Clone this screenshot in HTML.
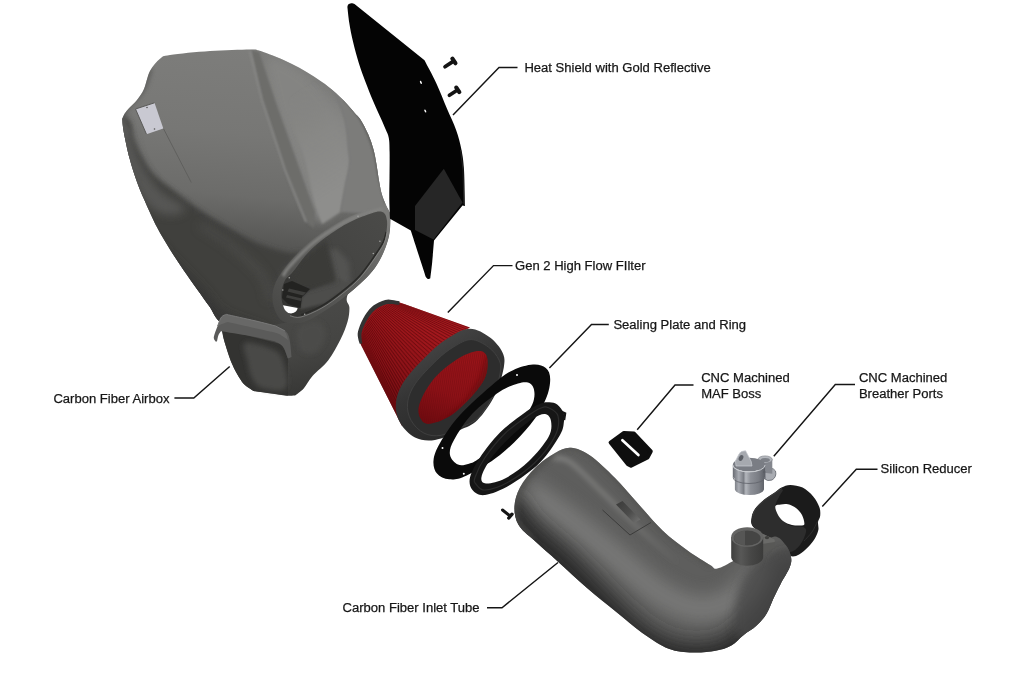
<!DOCTYPE html>
<html lang="en"><head><meta charset="utf-8"><title>Carbon Fiber Intake – Exploded View</title>
<style>
html,body{margin:0;padding:0;background:#fff;}
body{width:1024px;height:683px;overflow:hidden;font-family:"Liberation Sans",sans-serif;}
svg{display:block}
svg text{font-family:"Liberation Sans",sans-serif;font-size:13.05px;fill:#161616;stroke:#161616;stroke-width:.25px;}
</style></head><body>
<svg width="1024" height="683" viewBox="0 0 1024 683">
<defs>
<filter id="b1" x="-20%" y="-20%" width="140%" height="140%"><feGaussianBlur stdDeviation="1"/></filter>
<filter id="b2" x="-20%" y="-20%" width="140%" height="140%"><feGaussianBlur stdDeviation="2.5"/></filter>
<filter id="b4" x="-30%" y="-30%" width="160%" height="160%"><feGaussianBlur stdDeviation="5"/></filter>
<filter id="b8" x="-40%" y="-40%" width="180%" height="180%"><feGaussianBlur stdDeviation="9"/></filter>
<clipPath id="cBody"><path d="M122.3 119.0C122.9 117.8 123.5 114.9 126.0 111.7C128.4 108.5 134.0 103.8 137.0 100.0C140.0 96.2 141.8 93.8 144.0 89.0C146.2 84.2 147.3 76.0 150.0 71.0C152.7 66.0 156.7 61.4 160.0 58.8C163.3 56.1 161.7 56.3 170.0 55.0C178.3 53.7 196.7 51.9 210.0 51.0C223.3 50.1 241.8 49.6 250.0 49.5C258.1 49.4 255.6 49.8 258.9 50.6C262.2 51.5 265.7 53.0 270.0 54.6C274.3 56.2 279.7 58.3 284.6 60.5C289.5 62.7 294.4 65.1 299.3 67.8C304.2 70.5 309.0 73.4 313.9 76.6C318.8 79.8 323.7 83.0 328.6 86.9C333.5 90.8 338.8 95.6 343.2 100.0C347.6 104.4 351.9 109.8 354.9 113.2C357.9 116.6 358.8 116.9 361.0 120.5C363.2 124.1 366.2 129.8 368.3 134.6C370.4 139.4 372.0 144.4 373.4 149.3C374.8 154.2 375.5 159.0 376.4 163.9C377.3 168.8 377.8 173.7 378.6 178.6C379.5 183.5 380.3 188.8 381.5 193.2C382.7 197.6 384.4 201.5 385.9 204.9C387.4 208.3 389.5 211.3 390.3 213.7C391.1 216.0 390.6 218.1 390.6 219.0C390.2 222.5 390.6 231.8 388.0 240.0C385.4 248.2 381.1 259.1 374.8 267.9C368.5 276.6 358.9 285.0 350.0 292.5C341.1 300.0 329.7 307.9 321.5 313.0C313.3 318.1 307.1 321.3 301.0 323.0C294.9 324.7 290.2 322.5 285.0 323.0C279.8 323.5 272.5 325.5 270.0 326.0C263.7 324.7 240.4 318.8 232.0 318.0C223.6 317.2 223.6 323.4 219.8 321.5C216.0 319.6 213.0 311.6 209.3 306.3C205.6 301.0 201.9 295.9 197.6 289.9C193.3 283.8 188.1 276.7 183.5 270.0C178.9 263.3 174.4 256.6 170.0 249.5C165.6 242.3 161.1 235.3 156.9 227.1C152.7 218.9 147.9 208.0 144.6 200.5C141.3 193.0 139.5 189.0 137.0 182.0C134.5 175.0 131.8 166.9 129.6 158.6C127.4 150.3 125.0 138.8 123.8 132.2C122.6 125.6 122.5 121.2 122.3 119.0Z"/></clipPath>
<linearGradient id="gBody" gradientUnits="userSpaceOnUse" x1="250" y1="50" x2="225" y2="330">
<stop offset="0" stop-color="#7d7d7b"/><stop offset=".3" stop-color="#777775"/><stop offset=".52" stop-color="#6c6c6a"/><stop offset=".66" stop-color="#5a5a58"/><stop offset=".8" stop-color="#484846"/><stop offset="1" stop-color="#3f3f3d"/></linearGradient>
<linearGradient id="gDuct" gradientUnits="userSpaceOnUse" x1="300" y1="300" x2="325" y2="395">
<stop offset="0" stop-color="#4a4a48"/><stop offset=".55" stop-color="#444442"/><stop offset="1" stop-color="#353533"/></linearGradient>
<linearGradient id="gVal" gradientUnits="userSpaceOnUse" x1="292" y1="95" x2="348" y2="185"><stop offset="0" stop-color="#848482" stop-opacity="0"/><stop offset=".45" stop-color="#8a8a88" stop-opacity=".7"/><stop offset="1" stop-color="#8e8e8c"/></linearGradient>
<linearGradient id="gFl" gradientUnits="userSpaceOnUse" x1="370" y1="205" x2="280" y2="320">
<stop offset="0" stop-color="#7c7c7a"/><stop offset=".3" stop-color="#686866"/><stop offset=".6" stop-color="#585856"/><stop offset="1" stop-color="#484846"/></linearGradient>
<linearGradient id="gIn" gradientUnits="userSpaceOnUse" x1="380" y1="215" x2="290" y2="305">
<stop offset="0" stop-color="#4a4a48"/><stop offset=".55" stop-color="#444442"/><stop offset="1" stop-color="#343432"/></linearGradient>
<clipPath id="cE3"><path d="M292.8 272.0C297.2 266.9 303.7 256.6 311.2 249.4C318.7 242.2 329.3 234.4 337.9 228.9C346.4 223.4 355.3 219.5 362.5 216.6C369.7 213.7 376.8 210.8 380.9 211.5C385.0 212.2 386.4 215.8 387.0 220.7C387.6 225.6 386.2 235.6 384.5 241.2C382.8 246.8 380.8 248.5 376.8 254.5C372.8 260.5 366.2 270.5 360.4 277.0C354.6 283.5 348.5 288.4 342.0 293.5C335.5 298.6 328.3 304.0 321.5 307.8C314.7 311.6 306.1 315.3 301.0 316.5C295.9 317.7 293.7 316.9 290.7 315.0C287.7 313.1 284.5 308.6 283.0 304.8C281.5 301.1 281.2 296.6 281.5 292.5C281.8 288.4 283.1 283.6 285.0 280.2C286.9 276.8 288.4 277.1 292.8 272.0Z"/></clipPath>
<linearGradient id="gRed" gradientUnits="userSpaceOnUse" x1="440" y1="312" x2="375" y2="385">
<stop offset="0" stop-color="#a4191e"/><stop offset=".35" stop-color="#98151a"/><stop offset=".75" stop-color="#821015"/><stop offset="1" stop-color="#680b0f"/></linearGradient>
<linearGradient id="gRedIn" gradientUnits="userSpaceOnUse" x1="470" y1="352" x2="440" y2="425">
<stop offset="0" stop-color="#9a151a"/><stop offset=".6" stop-color="#8e1218"/><stop offset="1" stop-color="#720c11"/></linearGradient>
<linearGradient id="gRim" gradientUnits="userSpaceOnUse" x1="430" y1="340" x2="480" y2="430">
<stop offset="0" stop-color="#454545"/><stop offset=".4" stop-color="#343434"/><stop offset="1" stop-color="#272727"/></linearGradient>
<clipPath id="cCone"><path d="M397.0 301.5L470.0 327.5L440.0 345.0L402.0 426.0L360.3 343.5L359.0 331.0L364.0 318.0L374.0 306.5L386.0 301.5Z"/></clipPath>
<clipPath id="cRimI"><path d="M487.5 360.0C487.9 365.2 487.9 373.8 482.5 382.5C477.1 391.2 463.8 405.6 455.0 412.5C446.2 419.4 435.8 422.9 430.0 423.8C424.2 424.6 421.7 421.0 420.0 417.5C418.3 414.0 417.5 409.2 420.0 402.5C422.5 395.8 428.3 385.0 435.0 377.5C441.7 370.0 452.5 361.9 460.0 357.5C467.5 353.1 475.4 350.6 480.0 351.0C484.6 351.4 487.1 354.8 487.5 360.0Z"/></clipPath>
<clipPath id="cTube"><path d="M571.0 447.8C576.8 448.2 582.7 450.5 590.0 455.5C597.3 460.5 607.1 470.1 615.0 478.0C622.9 485.9 629.6 494.2 637.5 503.0C645.4 511.8 654.2 522.6 662.5 530.5C670.8 538.4 679.6 544.8 687.5 550.5C695.4 556.2 705.0 562.0 710.0 565.0C715.0 568.0 713.1 569.3 717.3 568.5C721.5 567.7 727.9 563.9 735.0 560.0C742.1 556.1 753.3 548.9 760.0 545.0C766.7 541.1 770.7 536.5 775.0 536.5C779.3 536.5 783.2 541.8 785.9 545.3C788.6 548.8 790.5 553.8 791.1 557.6C791.7 561.4 791.1 563.7 789.4 568.1C787.6 572.5 783.2 578.9 780.6 583.9C778.0 588.9 776.0 593.0 773.6 598.0C771.2 603.0 769.4 609.1 766.5 613.8C763.6 618.5 759.8 622.6 756.0 626.1C752.2 629.6 747.8 631.7 743.7 634.9C739.6 638.1 736.1 642.8 731.4 645.4C726.7 648.0 722.0 649.5 715.6 650.7C709.2 651.9 700.5 652.8 692.7 652.5C684.9 652.2 677.1 652.0 668.7 648.7C660.3 645.4 651.1 639.0 642.3 632.9C633.5 626.8 625.2 619.3 616.0 611.8C606.8 604.3 596.7 596.4 587.0 588.0C577.3 579.6 566.8 569.6 558.0 561.7C549.2 553.8 540.9 546.8 534.3 540.6C527.7 534.5 521.8 530.5 518.5 524.8C515.2 519.1 514.2 512.6 514.5 506.4C514.8 500.2 516.6 493.9 520.0 487.5C523.4 481.1 529.2 473.8 535.0 468.0C540.8 462.2 549.0 456.4 555.0 453.0C561.0 449.6 565.2 447.4 571.0 447.8Z"/></clipPath>
<linearGradient id="gHl" gradientUnits="userSpaceOnUse" x1="552" y1="458" x2="680" y2="565"><stop offset="0" stop-color="#8a8a88" stop-opacity=".8"/><stop offset=".5" stop-color="#8a8a88" stop-opacity=".55"/><stop offset="1" stop-color="#8a8a88" stop-opacity="0"/></linearGradient>
<linearGradient id="gPad" gradientUnits="userSpaceOnUse" x1="618" y1="503" x2="638" y2="522"><stop offset="0" stop-color="#3d3d3c"/><stop offset=".55" stop-color="#4c4c4b"/><stop offset="1" stop-color="#6e6e6d"/></linearGradient>
<linearGradient id="gBoss" gradientUnits="userSpaceOnUse" x1="731" y1="0" x2="764" y2="0">
<stop offset="0" stop-color="#3e3e3d"/><stop offset=".3" stop-color="#585857"/><stop offset=".6" stop-color="#474746"/><stop offset="1" stop-color="#3a3a39"/></linearGradient>
<linearGradient id="gSil" gradientUnits="userSpaceOnUse" x1="733" y1="0" x2="765" y2="0">
<stop offset="0" stop-color="#6a6d74"/><stop offset=".18" stop-color="#a9acb3"/><stop offset=".33" stop-color="#7b7e85"/><stop offset=".4" stop-color="#b4b7bd"/><stop offset=".55" stop-color="#8d9097"/><stop offset=".8" stop-color="#7a7d84"/><stop offset="1" stop-color="#5c5f66"/></linearGradient>
</defs>
<g id="airbox">
<path d="M222.0 326.0C222.4 328.5 222.6 334.7 224.3 341.0C226.0 347.3 229.3 357.4 232.0 363.8C234.7 370.2 238.2 376.0 240.5 379.6C242.8 383.2 243.3 383.6 245.5 385.5C247.7 387.4 252.2 390.1 253.5 391.0C258.6 391.7 277.5 394.6 284.4 395.4C291.3 396.2 293.1 395.6 294.9 395.6C296.4 394.4 300.8 391.6 303.7 388.4C306.6 385.1 308.4 380.8 312.5 376.1C316.6 371.4 323.6 366.5 328.3 360.3C333.0 354.1 337.4 345.6 340.6 339.2C343.8 332.8 346.1 326.9 347.6 321.6C349.1 316.3 349.5 311.4 349.4 307.6C349.2 303.8 346.3 302.9 346.7 298.8C347.1 294.7 351.1 285.6 352.0 283.0L330.0 270.0L260.0 300.0L222.0 326.0Z" fill="url(#gDuct)"/>
<path d="M298.0 328.0C301.0 323.3 313.3 320.8 318.0 322.0C322.7 323.2 326.3 330.0 326.0 335.0C325.7 340.0 320.3 349.5 316.0 352.0C311.7 354.5 303.0 354.0 300.0 350.0C297.0 346.0 295.0 332.7 298.0 328.0Z" fill="#4e4e4c" filter="url(#b2)" opacity=".8"/>
<path d="M221.5 329.0L275.0 342.5C276.3 343.1 280.5 343.5 282.6 346.2C284.8 348.9 287.0 356.4 287.9 358.5L288.0 395.4L253.5 391.0C252.2 390.1 247.7 387.4 245.5 385.5C243.3 383.6 242.8 383.2 240.5 379.6C238.2 376.0 234.7 370.2 232.0 363.8C229.3 357.4 226.1 346.8 224.3 341.0C222.6 335.2 222.0 331.0 221.5 329.0Z" fill="#333331"/>
<path d="M245.0 343.0C249.2 341.2 265.7 346.2 272.0 349.0C278.3 351.8 280.7 353.5 283.0 360.0C285.3 366.5 289.5 383.3 286.0 388.0C282.5 392.7 267.7 389.7 262.0 388.0C256.3 386.3 254.5 382.7 252.0 378.0C249.5 373.3 248.2 365.8 247.0 360.0C245.8 354.2 240.8 344.8 245.0 343.0Z" fill="#484847" filter="url(#b2)"/>
<path d="M122.3 119.0C122.9 117.8 123.5 114.9 126.0 111.7C128.4 108.5 134.0 103.8 137.0 100.0C140.0 96.2 141.8 93.8 144.0 89.0C146.2 84.2 147.3 76.0 150.0 71.0C152.7 66.0 156.7 61.4 160.0 58.8C163.3 56.1 161.7 56.3 170.0 55.0C178.3 53.7 196.7 51.9 210.0 51.0C223.3 50.1 241.8 49.6 250.0 49.5C258.1 49.4 255.6 49.8 258.9 50.6C262.2 51.5 265.7 53.0 270.0 54.6C274.3 56.2 279.7 58.3 284.6 60.5C289.5 62.7 294.4 65.1 299.3 67.8C304.2 70.5 309.0 73.4 313.9 76.6C318.8 79.8 323.7 83.0 328.6 86.9C333.5 90.8 338.8 95.6 343.2 100.0C347.6 104.4 351.9 109.8 354.9 113.2C357.9 116.6 358.8 116.9 361.0 120.5C363.2 124.1 366.2 129.8 368.3 134.6C370.4 139.4 372.0 144.4 373.4 149.3C374.8 154.2 375.5 159.0 376.4 163.9C377.3 168.8 377.8 173.7 378.6 178.6C379.5 183.5 380.3 188.8 381.5 193.2C382.7 197.6 384.4 201.5 385.9 204.9C387.4 208.3 389.5 211.3 390.3 213.7C391.1 216.0 390.6 218.1 390.6 219.0C390.2 222.5 390.6 231.8 388.0 240.0C385.4 248.2 381.1 259.1 374.8 267.9C368.5 276.6 358.9 285.0 350.0 292.5C341.1 300.0 329.7 307.9 321.5 313.0C313.3 318.1 307.1 321.3 301.0 323.0C294.9 324.7 290.2 322.5 285.0 323.0C279.8 323.5 272.5 325.5 270.0 326.0C263.7 324.7 240.4 318.8 232.0 318.0C223.6 317.2 223.6 323.4 219.8 321.5C216.0 319.6 213.0 311.6 209.3 306.3C205.6 301.0 201.9 295.9 197.6 289.9C193.3 283.8 188.1 276.7 183.5 270.0C178.9 263.3 174.4 256.6 170.0 249.5C165.6 242.3 161.1 235.3 156.9 227.1C152.7 218.9 147.9 208.0 144.6 200.5C141.3 193.0 139.5 189.0 137.0 182.0C134.5 175.0 131.8 166.9 129.6 158.6C127.4 150.3 125.0 138.8 123.8 132.2C122.6 125.6 122.5 121.2 122.3 119.0Z" fill="url(#gBody)"/>
<g clip-path="url(#cBody)">
<path d="M108.0 112.0C112.0 89.7 120.2 114.0 124.0 116.0C127.8 118.0 129.5 120.5 131.0 124.0C132.5 127.5 131.3 131.8 133.0 137.0C134.7 142.2 137.6 148.8 141.0 155.0C144.4 161.2 148.2 168.2 153.5 174.0C158.8 179.8 165.1 183.9 173.0 190.0C180.9 196.1 190.6 203.6 201.0 210.5C211.4 217.4 225.5 225.8 235.5 231.5C245.5 237.2 251.9 240.9 261.0 244.5C270.1 248.1 283.5 251.8 290.0 253.0C296.5 254.2 301.7 248.3 300.0 252.0C298.3 255.7 284.7 267.0 280.0 275.0C275.3 283.0 272.8 290.0 272.0 300.0C271.2 310.0 287.0 329.2 275.0 335.0C263.0 340.8 229.2 349.2 200.0 335.0C170.8 320.8 115.3 287.2 100.0 250.0C84.7 212.8 104.0 134.3 108.0 112.0Z" fill="#3f3f3e" filter="url(#b2)"/>
<path d="M112.0 118.0C112.5 111.3 123.3 118.0 128.0 125.0C132.7 132.0 134.7 149.2 140.0 160.0C145.3 170.8 152.5 182.0 160.0 190.0C167.5 198.0 183.3 203.8 185.0 208.0C186.7 212.2 176.2 215.5 170.0 215.0C163.8 214.5 155.5 213.3 148.0 205.0C140.5 196.7 131.0 179.5 125.0 165.0C119.0 150.5 111.5 124.7 112.0 118.0Z" fill="#5a5a58" filter="url(#b4)" opacity=".9"/>
<path d="M150.0 235.0C155.8 236.7 165.8 250.8 175.0 260.0C184.2 269.2 196.7 281.3 205.0 290.0C213.3 298.7 214.5 305.3 225.0 312.0C235.5 318.7 265.5 325.3 268.0 330.0C270.5 334.7 253.0 342.5 240.0 340.0C227.0 337.5 206.7 330.0 190.0 315.0C173.3 300.0 146.7 263.3 140.0 250.0C133.3 236.7 144.2 233.3 150.0 235.0Z" fill="#363635" filter="url(#b4)" opacity=".85"/>
<path d="M200.0 225.0C205.0 228.3 219.7 236.7 230.0 245.0C240.3 253.3 255.3 265.8 262.0 275.0C268.7 284.2 268.7 295.8 270.0 300.0" fill="none" stroke="#4e4e4c" stroke-width="7" filter="url(#b4)" opacity=".8"/>
<path d="M268.0 58.0C272.7 53.8 289.7 63.0 300.0 70.0C310.3 77.0 322.5 88.3 330.0 100.0C337.5 111.7 342.0 127.5 345.0 140.0C348.0 152.5 348.8 164.2 348.0 175.0C347.2 185.8 345.0 197.2 340.0 205.0C335.0 212.8 324.7 224.5 318.0 222.0C311.3 219.5 305.5 203.7 300.0 190.0C294.5 176.3 289.7 155.8 285.0 140.0C280.3 124.2 274.8 108.7 272.0 95.0C269.2 81.3 263.3 62.2 268.0 58.0Z" fill="#868684" filter="url(#b4)" opacity=".85"/>
<path d="M300.0 70.0C303.7 71.7 316.0 75.3 322.0 80.0C328.0 84.7 332.2 91.0 336.0 98.0C339.8 105.0 342.9 113.3 345.0 122.0C347.1 130.7 347.6 143.0 348.3 150.0C349.0 157.0 349.9 158.1 349.3 163.9C348.8 169.7 346.5 177.0 345.0 185.0C343.5 193.0 341.2 207.5 340.5 212.0L322.0 224.0C320.7 220.0 316.8 210.7 314.0 200.0C311.2 189.3 309.0 175.0 305.0 160.0C301.0 145.0 290.8 125.0 290.0 110.0C289.2 95.0 298.3 76.7 300.0 70.0Z" fill="url(#gVal)" filter="url(#b1)"/>
<path d="M322.0 80.0C324.3 83.0 332.2 91.0 336.0 98.0C339.8 105.0 342.9 113.3 345.0 122.0C347.1 130.7 347.6 143.0 348.3 150.0C349.0 157.0 349.9 158.1 349.3 163.9C348.8 169.7 346.5 177.0 345.0 185.0C343.5 193.0 341.2 207.5 340.5 212.0L395.0 215.0C393.3 204.2 390.0 167.2 385.0 150.0C380.0 132.8 374.2 124.0 365.0 112.0C355.8 100.0 335.8 83.7 330.0 78.0Z" fill="#7c7c7a" filter="url(#b1)"/>
<path d="M345.0 99.0C347.8 102.7 357.2 112.5 362.0 121.0C366.8 129.5 371.1 140.5 374.0 150.0C376.9 159.5 377.5 169.2 379.5 178.0C381.5 186.8 384.9 198.8 386.0 203.0" fill="none" stroke="#5e5e5c" stroke-width="3" filter="url(#b1)"/>
<path d="M251.0 50.0L259.0 52.0L275.0 100.0L300.0 170.0L315.0 212.0L314.0 228.0L306.0 222.0L285.0 170.0L262.0 100.0Z" fill="#6d6d6b" filter="url(#b1)"/>
<path d="M250 51 L262 100 L285 170 L306 222" fill="none" stroke="#8c8c8a" stroke-width="1.6" filter="url(#b1)"/>
<path d="M150.0 68.0C148.7 71.7 146.0 83.3 142.0 90.0C138.0 96.7 129.3 103.0 126.0 108.0C122.7 113.0 121.8 115.5 122.0 120.0C122.2 124.5 126.2 132.5 127.0 135.0" fill="none" stroke="#5a5a58" stroke-width="5" filter="url(#b2)"/>
</g>
<path d="M215.5 341.5C215.2 340.8 213.5 339.6 213.8 337.0C214.2 334.4 216.3 329.3 217.6 326.0C218.9 322.7 220.0 318.9 221.5 317.0C223.0 315.1 225.6 314.8 226.4 314.4C231.2 315.5 246.8 318.9 255.0 320.8C263.2 322.7 272.2 325.1 275.6 326.0C277.7 327.3 285.2 328.8 287.9 334.0C290.6 339.2 291.0 353.2 291.6 357.0L287.9 358.5C287.0 356.4 285.0 349.1 282.6 346.2C280.2 343.3 275.3 341.9 273.8 341.0C269.8 340.2 258.8 337.6 250.0 336.0C241.2 334.4 225.8 332.1 221.0 331.3C220.6 331.9 219.2 333.3 218.5 335.0C217.8 336.7 217.2 340.4 217.0 341.5Z" fill="#5b5b5a"/>
<path d="M217.6 326.0C218.2 324.5 220.0 318.9 221.5 317.0C223.0 315.1 225.6 314.8 226.4 314.4C231.2 315.5 246.8 318.9 255.0 320.8C263.2 322.7 272.2 325.1 275.6 326.0C277.2 327.0 282.9 329.7 285.0 332.0C287.1 334.3 287.5 338.7 288.0 340.0C286.5 339.0 282.0 335.4 279.0 334.0C276.0 332.6 271.5 331.9 270.0 331.5C266.7 330.8 257.0 328.6 250.0 327.0C243.0 325.4 231.7 322.8 228.0 322.0C227.0 322.3 223.7 323.3 222.0 324.0C220.3 324.7 218.3 325.7 217.6 326.0Z" fill="#686867"/>
<path d="M217.6 326.0C218.2 324.5 220.0 318.9 221.5 317.0C223.0 315.1 225.6 314.8 226.4 314.4C231.2 315.5 246.8 318.9 255.0 320.8C263.2 322.7 272.2 325.1 275.6 326.0L285.0 331.0" fill="none" stroke="#7b7b7a" stroke-width=".9"/>
<path d="M135.5 109.0L154.5 102.8L163.3 128.5L146.5 134.3Z" fill="#c9c9d2"/>
<path d="M146.5 134.3 L135.5 109 L154.5 102.8" stroke="#5a5a58" stroke-width="1" fill="none"/>
<circle cx="147" cy="107.5" r=".8" fill="#555"/><circle cx="154.5" cy="129" r=".8" fill="#555"/>
<path d="M163.5 128.7 L191.3 182.5" stroke="#5d5d5b" stroke-width=".9"/>
<path d="M385.0 206.4C388.9 208.1 389.7 214.6 390.0 220.7C390.3 226.8 389.5 235.1 387.0 243.0C384.5 250.9 381.0 259.6 374.8 267.9C368.6 276.1 358.9 285.0 350.0 292.5C341.1 300.0 329.7 307.9 321.5 313.0C313.3 318.1 307.5 321.7 301.0 323.0C294.5 324.3 287.1 324.0 282.5 321.0C277.9 318.0 274.7 310.6 273.3 304.8C271.9 299.0 272.1 292.5 274.3 286.0C276.5 279.5 280.5 273.3 286.6 265.8C292.7 258.3 301.8 248.5 311.0 241.0C320.2 233.5 332.7 225.8 342.0 220.7C351.3 215.6 359.4 212.9 366.6 210.5C373.8 208.1 381.1 204.7 385.0 206.4Z" fill="url(#gFl)"/>
<path d="M283.0 276.0C284.1 274.4 284.6 271.9 289.5 266.5C294.4 261.1 303.7 250.7 312.5 243.5C321.3 236.3 333.5 228.6 342.5 223.5C351.5 218.4 359.9 215.5 366.6 213.0C373.4 210.5 380.3 209.3 383.0 208.6" fill="none" stroke="#848482" stroke-width="3.2" filter="url(#b1)" opacity=".9"/>
<path d="M292.8 272.0C297.2 266.9 303.7 256.6 311.2 249.4C318.7 242.2 329.3 234.4 337.9 228.9C346.4 223.4 355.3 219.5 362.5 216.6C369.7 213.7 376.8 210.8 380.9 211.5C385.0 212.2 386.4 215.8 387.0 220.7C387.6 225.6 386.2 235.6 384.5 241.2C382.8 246.8 380.8 248.5 376.8 254.5C372.8 260.5 366.2 270.5 360.4 277.0C354.6 283.5 348.5 288.4 342.0 293.5C335.5 298.6 328.3 304.0 321.5 307.8C314.7 311.6 306.1 315.3 301.0 316.5C295.9 317.7 293.7 316.9 290.7 315.0C287.7 313.1 284.5 308.6 283.0 304.8C281.5 301.1 281.2 296.6 281.5 292.5C281.8 288.4 283.1 283.6 285.0 280.2C286.9 276.8 288.4 277.1 292.8 272.0Z" fill="url(#gIn)"/>
<g clip-path="url(#cE3)">
<path d="M328.0 250.0L337.0 249.0L349.0 262.0L351.0 284.0L338.0 293.0L333.0 270.0Z" fill="#535351" filter="url(#b2)"/>
<path d="M309.5 290.0L338.5 278.2L351.0 284.0L325.3 303.0L300.3 309.5L301.6 298.0Z" fill="#4d4d4b" filter="url(#b1)"/>
<path d="M300.0 262.0L326.0 240.0L333.0 268.0L336.0 282.0L308.0 290.0L290.0 285.0Z" fill="#3a3a38" filter="url(#b2)"/>
<path d="M284.0 284.0L292.0 281.0L310.0 289.0L302.0 297.0L300.5 308.0L288.0 304.0L282.0 298.0Z" fill="#232321"/>
<path d="M289.0 288.5L306.0 292.5L303.0 295.5L287.5 291.5Z" fill="#3e3e3c"/>
<path d="M287.0 295.0L302.0 298.5L301.0 301.0L286.0 297.5Z" fill="#3e3e3c"/>
<path d="M386.2 232.0C385.7 233.7 385.0 238.2 383.2 242.0C381.4 245.8 379.4 248.8 375.5 254.5C371.6 260.2 365.2 269.7 359.5 276.0C353.8 282.3 347.4 287.2 341.0 292.3C334.6 297.4 327.5 302.6 320.8 306.4C314.1 310.2 304.3 313.6 301.0 315.0" fill="none" stroke="#2a2a28" stroke-width="1.6"/>
</g>
<path d="M387.3 232.0C386.9 233.7 386.4 238.2 384.7 242.0C383.0 245.8 381.0 249.1 377.0 255.0C373.0 260.9 366.4 270.8 360.6 277.3C354.8 283.8 348.7 288.7 342.2 293.8C335.7 298.9 328.7 304.1 321.8 308.0C314.9 311.9 306.3 315.7 301.0 317.0C295.7 318.3 291.8 316.0 290.0 315.8" fill="none" stroke="#8a8a88" stroke-width=".8" opacity=".9"/>
<path d="M283 305.2 L297.6 308 Q297.5 312 291 313.6 Q285 313 283 305.2Z" fill="#fff"/>
<circle cx="358.0" cy="216.2" r=".8" fill="#a5a5a3"/>
<circle cx="379.9" cy="241.2" r=".8" fill="#a5a5a3"/>
<circle cx="373.3" cy="253.5" r=".8" fill="#a5a5a3"/>
<circle cx="289.3" cy="277.7" r=".8" fill="#a5a5a3"/>
<circle cx="282.8" cy="290.0" r=".8" fill="#a5a5a3"/>
<circle cx="304.7" cy="314.3" r=".8" fill="#a5a5a3"/>
</g>
<g id="heatshield">
<path d="M347.4 7.0C347.5 6.6 347.7 5.2 348.3 4.6C348.9 4.0 350.2 3.4 351.2 3.3C352.2 3.2 353.9 3.9 354.5 4.0L424.5 60.3C426.5 64.2 432.7 75.5 436.4 83.5C440.1 91.5 443.6 100.8 446.9 108.5C450.2 116.2 453.7 123.1 456.1 130.0C458.5 136.9 460.2 143.3 461.5 150.0C462.8 156.7 463.4 160.7 464.0 170.0C464.6 179.3 464.8 200.0 465.0 206.0L462.5 205.5L434.0 240.5C433.7 244.1 432.8 255.7 432.2 262.0C431.6 268.3 430.6 275.5 430.3 278.2C429.9 278.3 428.8 279.2 428.0 279.0C427.2 278.8 426.2 277.3 425.8 277.0C424.7 273.5 421.5 263.7 419.0 256.0C416.5 248.3 412.2 234.8 410.8 230.6L390.0 218.8C389.9 215.6 389.4 206.8 389.3 200.0C389.2 193.2 389.4 186.0 389.5 178.0C389.6 170.0 389.7 158.7 389.6 152.0C389.5 145.3 389.5 141.8 388.8 138.0C388.1 134.2 387.1 132.8 385.7 129.5C384.3 126.2 382.8 122.8 380.7 118.1C378.6 113.3 375.6 107.0 373.1 101.0C370.6 95.0 367.9 88.2 365.5 81.9C363.1 75.6 360.9 69.6 358.8 62.9C356.7 56.2 354.7 48.6 353.1 41.9C351.5 35.2 350.2 28.7 349.3 22.9C348.4 17.1 347.7 9.7 347.4 7.0Z" fill="#040404"/>
<path d="M443.8 168.8L462.5 202.5L433.5 239.5L415.0 230.0L415.0 206.0Z" fill="#262626"/>
<path d="M460.6 150 L463 170 L463.8 204" stroke="#222" stroke-width="1" fill="none"/>
<ellipse cx="420.9" cy="82.4" rx=".8" ry="1.7" fill="#fff" transform="rotate(-25 420.9 82.4)"/><ellipse cx="425.3" cy="111" rx=".8" ry="1.7" fill="#fff" transform="rotate(-25 425.3 111)"/>
<path d="M445.0 66.8 L452.4 61.9" stroke="#141414" stroke-width="3.7" stroke-linecap="round"/>
<path d="M452.4 58.7 L455.4 63.2" stroke="#141414" stroke-width="4.2" stroke-linecap="round"/>
<path d="M449.4 95.3 L456.3 90.8" stroke="#141414" stroke-width="3.7" stroke-linecap="round"/>
<path d="M456.3 87.6 L459.3 92.1" stroke="#141414" stroke-width="4.2" stroke-linecap="round"/>
</g>
<g id="filter">
<path d="M397.0 301.5L470.0 327.5L440.0 345.0L402.0 426.0L360.3 343.5L359.0 331.0L364.0 318.0L374.0 306.5L386.0 301.5Z" fill="url(#gRed)"/>
<g clip-path="url(#cCone)"><path d="M404.0 303.5 L476.0 328.0M402.4 303.5 L472.8 329.1M400.7 303.6 L469.7 330.2M399.1 303.6 L466.5 331.3M397.4 303.6 L463.4 332.4M395.8 303.7 L460.2 333.5M394.1 303.7 L457.1 334.6M392.5 303.7 L453.9 335.6M390.8 303.8 L450.8 336.7M389.2 304.1 L448.0 338.5M387.7 304.7 L445.4 340.6M386.2 305.4 L442.7 342.6M384.7 306.0 L440.1 344.7M383.1 306.6 L437.4 346.7M381.6 307.2 L434.8 348.8M380.1 307.8 L432.2 350.8M378.6 308.5 L429.6 352.9M377.4 309.7 L427.4 355.4M376.3 310.9 L425.1 357.9M375.2 312.1 L422.9 360.3M374.1 313.3 L420.6 362.8M373.0 314.5 L418.4 365.3M371.9 315.8 L416.1 367.8M370.8 317.0 L413.9 370.2M369.7 318.2 L411.6 372.7M368.6 319.4 L409.4 375.2M367.9 320.9 L407.1 377.6M367.2 322.4 L404.9 380.1M366.6 323.9 L403.7 383.2M365.9 325.4 L402.5 386.3M365.2 326.9 L401.2 389.4M364.6 328.4 L400.0 392.5M363.9 329.9 L398.7 395.6M363.2 331.5 L397.5 398.7M362.8 333.0 L396.3 401.8M362.5 334.7 L396.5 405.1M362.2 336.3 L397.1 408.3M361.9 337.9 L397.8 411.6M361.7 339.5 L398.4 414.9M361.4 341.1 L399.1 418.2M361.1 342.8 L399.7 421.4M360.8 344.4 L400.4 424.7M360.5 346.0 L401.0 428.0" stroke="#4e0609" stroke-width=".9" opacity=".55" fill="none"/><path d="M403.2 303.5 L474.4 328.5M401.5 303.6 L471.3 329.6M399.9 303.6 L468.1 330.7M398.2 303.6 L465.0 331.8M396.6 303.7 L461.8 332.9M394.9 303.7 L458.7 334.0M393.3 303.7 L455.5 335.1M391.7 303.8 L452.3 336.2M390.0 303.8 L449.3 337.5M388.5 304.4 L446.7 339.6M387.0 305.0 L444.0 341.6M385.4 305.7 L441.4 343.7M383.9 306.3 L438.8 345.7M382.4 306.9 L436.1 347.8M380.9 307.5 L433.5 349.8M379.3 308.2 L430.9 351.8M378.0 309.1 L428.5 354.2M376.9 310.3 L426.2 356.6M375.8 311.5 L424.0 359.1M374.7 312.7 L421.7 361.6M373.6 313.9 L419.5 364.1M372.5 315.1 L417.3 366.5M371.4 316.4 L415.0 369.0M370.2 317.6 L412.8 371.5M369.1 318.8 L410.5 373.9M368.2 320.1 L408.3 376.4M367.6 321.7 L406.0 378.9M366.9 323.2 L404.3 381.7M366.2 324.7 L403.1 384.8M365.6 326.2 L401.8 387.9M364.9 327.7 L400.6 391.0M364.2 329.2 L399.4 394.1M363.6 330.7 L398.1 397.2M363.0 332.2 L396.9 400.3M362.7 333.8 L396.2 403.4M362.4 335.5 L396.8 406.7M362.1 337.1 L397.5 410.0M361.8 338.7 L398.1 413.3M361.5 340.3 L398.8 416.5M361.2 341.9 L399.4 419.8M360.9 343.6 L400.0 423.1M360.6 345.2 L400.7 426.4M360.4 346.8 L401.3 429.6" stroke="#c5282d" stroke-width=".5" opacity=".3" fill="none"/></g>
<path d="M399.5 301.3C398.2 301.1 394.4 300.1 392.0 299.9C389.6 299.7 388.4 299.0 385.1 300.1C381.8 301.2 375.6 303.6 372.0 306.7C368.4 309.8 365.5 314.2 363.2 318.4C360.9 322.5 358.8 328.2 358.0 331.6C357.2 335.0 358.0 337.0 358.3 339.0C358.6 341.0 359.5 343.0 359.7 343.8L362.3 343.5C362.2 341.8 360.9 336.8 361.6 333.0C362.3 329.2 364.3 324.8 366.5 321.0C368.7 317.2 371.7 312.8 375.0 310.0C378.3 307.2 382.4 305.2 386.5 304.3C390.6 303.4 397.3 304.7 399.5 304.8L399.5 301.3Z" fill="#333333"/>
<path d="M470.0 328.8C476.7 328.8 484.6 333.5 490.0 337.5C495.4 341.5 500.2 347.5 502.5 352.5C504.8 357.5 505.0 360.4 503.8 367.5C502.5 374.6 499.4 386.2 495.0 395.0C490.6 403.8 483.3 414.2 477.5 420.0C471.7 425.8 467.1 426.7 460.0 430.0C452.9 433.3 442.5 438.8 435.0 440.0C427.5 441.2 420.8 440.4 415.0 437.5C409.2 434.6 403.2 428.3 400.0 422.5C396.8 416.7 395.2 409.6 396.0 402.5C396.8 395.4 399.3 388.3 405.0 380.0C410.7 371.7 422.5 359.7 430.0 352.5C437.5 345.3 443.3 341.0 450.0 337.0C456.7 333.0 463.3 328.7 470.0 328.8Z" fill="url(#gRim)"/>
<path d="M471.2 339.6C476.9 339.7 483.7 343.7 488.4 347.1C493.1 350.6 497.2 355.8 499.1 360.1C501.1 364.4 501.3 366.9 500.2 372.9C499.2 379.0 496.5 389.1 492.7 396.6C488.9 404.1 482.7 413.1 477.6 418.1C472.6 423.1 468.7 423.8 462.6 426.7C456.5 429.6 447.6 434.2 441.1 435.3C434.7 436.4 428.9 435.7 423.9 433.1C418.9 430.6 413.7 425.3 411.0 420.2C408.3 415.2 406.8 409.1 407.6 403.1C408.3 397.0 410.4 390.9 415.3 383.7C420.2 376.5 430.4 366.2 436.8 360.1C443.2 353.9 448.3 350.1 454.0 346.7C459.7 343.3 465.5 339.6 471.2 339.6Z" fill="#2d2d2d" stroke="#444444" stroke-width=".8"/>
<path d="M487.5 360.0C487.9 365.2 487.9 373.8 482.5 382.5C477.1 391.2 463.8 405.6 455.0 412.5C446.2 419.4 435.8 422.9 430.0 423.8C424.2 424.6 421.7 421.0 420.0 417.5C418.3 414.0 417.5 409.2 420.0 402.5C422.5 395.8 428.3 385.0 435.0 377.5C441.7 370.0 452.5 361.9 460.0 357.5C467.5 353.1 475.4 350.6 480.0 351.0C484.6 351.4 487.1 354.8 487.5 360.0Z" fill="url(#gRedIn)"/>
<g clip-path="url(#cRimI)"><path d="M415.0 340.0 L401.0 430.0M417.0 340.0 L403.0 430.0M419.0 340.0 L405.0 430.0M421.0 340.0 L407.0 430.0M423.0 340.0 L409.0 430.0M425.0 340.0 L411.0 430.0M427.0 340.0 L413.0 430.0M429.0 340.0 L415.0 430.0M431.0 340.0 L417.0 430.0M433.0 340.0 L419.0 430.0M435.0 340.0 L421.0 430.0M437.0 340.0 L423.0 430.0M439.0 340.0 L425.0 430.0M441.0 340.0 L427.0 430.0M443.0 340.0 L429.0 430.0M445.0 340.0 L431.0 430.0M447.0 340.0 L433.0 430.0M449.0 340.0 L435.0 430.0M451.0 340.0 L437.0 430.0M453.0 340.0 L439.0 430.0M455.0 340.0 L441.0 430.0M457.0 340.0 L443.0 430.0M459.0 340.0 L445.0 430.0M461.0 340.0 L447.0 430.0M463.0 340.0 L449.0 430.0M465.0 340.0 L451.0 430.0M467.0 340.0 L453.0 430.0M469.0 340.0 L455.0 430.0M471.0 340.0 L457.0 430.0M473.0 340.0 L459.0 430.0M475.0 340.0 L461.0 430.0M477.0 340.0 L463.0 430.0M479.0 340.0 L465.0 430.0M481.0 340.0 L467.0 430.0M483.0 340.0 L469.0 430.0M485.0 340.0 L471.0 430.0M487.0 340.0 L473.0 430.0M489.0 340.0 L475.0 430.0M491.0 340.0 L477.0 430.0M493.0 340.0 L479.0 430.0" stroke="#64090d" stroke-width=".6" opacity=".5" fill="none"/>
<path d="M488.0 352.0L492.0 362.0L486.0 386.0L460.0 415.0L440.0 425.0L466.0 400.0L480.0 378.0Z" fill="#5a070b" opacity=".55" filter="url(#b2)"/>
</g>
</g>
<g id="plate">
<path d="M533.0 364.6C538.5 364.2 542.9 365.6 545.8 368.0C548.7 370.4 550.2 374.1 550.2 379.2C550.2 384.3 549.2 391.3 545.8 398.9C542.4 406.5 537.6 415.6 530.0 425.0C522.4 434.4 510.6 446.6 500.0 455.0C489.4 463.4 475.2 471.4 466.7 475.5C458.2 479.6 454.1 479.6 449.2 479.3C444.2 479.0 439.6 476.8 437.0 473.6C434.4 470.5 433.0 465.5 433.5 460.4C434.0 455.3 435.6 450.6 440.0 443.0C444.4 435.4 450.8 425.1 460.0 415.0C469.2 404.9 486.2 390.0 495.0 382.5C503.8 375.0 506.7 373.2 513.0 370.2C519.3 367.2 527.5 365.0 533.0 364.6Z M528.0 382.6C530.6 383.4 532.5 385.3 533.5 388.0C534.5 390.7 534.9 395.0 534.0 399.0C533.1 403.0 532.0 406.0 528.0 412.0C524.0 418.0 518.0 427.3 510.0 435.0C502.0 442.7 486.8 453.2 480.0 458.0C473.2 462.8 472.7 462.6 469.0 463.7C465.3 464.8 461.2 466.1 458.0 464.6C454.8 463.2 450.7 459.1 450.0 455.0C449.3 450.9 450.2 446.9 454.0 440.0C457.8 433.1 464.8 421.6 472.5 413.5C480.2 405.4 492.4 396.5 500.0 391.5C507.6 386.5 513.3 385.0 518.0 383.5C522.7 382.0 525.4 381.9 528.0 382.6Z" fill="#0a0a0a" fill-rule="evenodd"/>
<circle cx="517.0" cy="375.0" r="1" fill="#fff"/>
<circle cx="442.5" cy="448.0" r="1" fill="#fff"/>
<circle cx="463.8" cy="473.8" r="1" fill="#fff"/>
<path d="M549.3 402.3C552.2 402.5 555.1 402.9 557.5 404.7C559.9 406.5 562.4 410.3 563.5 413.0C564.6 415.7 564.6 417.3 564.0 421.0C563.4 424.7 564.0 428.1 560.0 435.0C556.0 441.9 548.3 454.2 540.0 462.5C531.7 470.8 519.2 479.6 510.0 485.0C500.8 490.4 491.2 494.2 485.0 495.0C478.8 495.8 475.0 492.9 472.5 490.0C470.0 487.1 468.8 482.9 470.0 477.5C471.2 472.1 475.0 465.0 480.0 457.5C485.0 450.0 492.5 440.0 500.0 432.5C507.5 425.0 518.3 417.3 525.0 412.5C531.7 407.7 536.0 405.4 540.0 403.8C544.0 402.1 546.4 402.1 549.3 402.3Z M545.0 414.0C548.1 414.3 550.4 417.2 551.0 421.0C551.6 424.8 552.2 430.3 548.5 437.0C544.8 443.7 536.2 454.1 529.0 461.0C521.8 467.9 512.2 474.8 505.0 478.5C497.8 482.2 489.9 483.8 486.0 483.5C482.1 483.2 480.7 481.2 481.5 477.0C482.3 472.8 486.1 465.2 491.0 458.5C495.9 451.8 504.1 443.1 511.0 436.5C517.9 429.9 526.8 422.8 532.5 419.0C538.2 415.2 541.9 413.7 545.0 414.0Z" fill="#161616" fill-rule="evenodd"/>
<path d="M548.0 407.5C550.8 408.8 556.8 411.2 558.0 416.0C559.2 420.8 558.8 428.2 555.0 436.0C551.2 443.8 542.9 454.8 535.0 462.5C527.1 470.2 515.8 477.9 507.5 482.5C499.2 487.1 490.2 489.8 485.0 490.0C479.8 490.2 477.7 486.1 476.0 484.0C474.3 481.9 473.5 481.9 475.0 477.5C476.5 473.1 480.0 464.8 485.0 457.5C490.0 450.2 497.7 440.6 505.0 433.5C512.3 426.4 523.0 419.2 529.0 415.0C535.0 410.8 537.8 409.2 541.0 408.0C544.2 406.8 545.2 406.2 548.0 407.5Z" fill="none" stroke="#2b2b2b" stroke-width="1.2"/>
<path d="M560 411 L565 413.5 L564 420" stroke="#161616" stroke-width="2.5" fill="none"/>
<path d="M502.5 510 L509.5 515.5" stroke="#141414" stroke-width="3" stroke-linecap="round"/><path d="M508.8 518 L512 514.2" stroke="#141414" stroke-width="3.4" stroke-linecap="round"/>
</g>
<g id="tube">
<path d="M751.6 517.5C752.0 514.6 753.0 511.6 755.1 508.7C757.2 505.8 760.8 502.5 764.0 499.9C767.2 497.2 771.6 494.9 774.5 492.8C777.4 490.8 778.9 488.9 781.5 487.6C784.1 486.3 786.8 484.9 790.3 484.9C793.8 484.9 798.8 485.7 802.6 487.6C806.4 489.5 810.4 493.2 813.2 496.4C816.0 499.6 818.1 503.7 819.3 506.9C820.5 510.1 820.4 513.2 820.2 515.7C820.0 518.2 818.3 519.6 818.0 522.0C817.7 524.4 818.9 527.0 818.4 529.8C817.9 532.5 816.6 535.6 814.9 538.5C813.1 541.4 810.5 544.6 807.9 547.3C805.3 549.9 802.1 552.9 799.1 554.4C796.1 555.9 794.0 557.1 790.0 556.0C786.0 554.9 779.3 551.3 775.0 548.0C770.7 544.7 767.8 539.7 764.0 536.0C760.2 532.3 754.6 529.1 752.5 526.0C750.4 522.9 751.2 520.4 751.6 517.5Z" fill="#1b1b1b"/>
<path d="M752.0 517.5C752.4 514.7 753.5 511.9 755.5 509.0C757.5 506.1 761.1 502.9 764.3 500.3C767.5 497.7 771.4 495.3 774.5 493.5C777.6 491.7 782.2 488.9 783.0 489.5C783.8 490.1 780.2 494.2 779.0 497.0C777.8 499.8 775.5 502.7 775.5 506.0C775.5 509.3 776.6 513.8 779.0 517.0C781.4 520.2 786.0 523.8 790.0 525.5C794.0 527.2 800.3 525.9 803.0 527.0C805.7 528.1 806.5 529.0 806.0 532.0C805.5 535.0 802.7 541.7 800.0 545.0C797.3 548.3 794.0 551.8 790.0 552.0C786.0 552.2 780.3 548.8 776.0 546.0C771.7 543.2 767.8 538.3 764.0 535.0C760.2 531.7 755.0 528.9 753.0 526.0C751.0 523.1 751.6 520.3 752.0 517.5Z" fill="#2d2d2d"/>
<path d="M752.5 516.0C753.1 514.8 754.0 511.2 756.0 508.5C758.0 505.8 761.4 502.5 764.5 500.0C767.6 497.5 771.8 495.2 774.7 493.3C777.6 491.4 780.8 489.3 782.0 488.5" fill="none" stroke="#3a3a3a" stroke-width="1.2"/>
<path d="M817.5 521.5C816.6 523.2 814.2 528.8 812.0 532.0C809.8 535.2 805.3 539.5 804.0 541.0" fill="none" stroke="#2e2e2e" stroke-width="1"/>
<path d="M775.4 506.0C776.0 504.4 778.9 504.7 781.0 504.4C783.1 504.1 785.5 503.7 788.0 504.3C790.5 504.9 793.7 506.2 796.0 508.0C798.3 509.8 800.6 512.4 802.0 515.0C803.4 517.6 804.4 521.8 804.4 523.5C804.4 525.2 804.1 525.1 802.0 525.4C799.9 525.6 795.2 525.7 792.0 525.0C788.8 524.3 785.4 522.8 783.0 521.0C780.6 519.2 778.8 516.5 777.5 514.0C776.2 511.5 774.8 507.6 775.4 506.0Z" fill="#fff"/>
<path d="M571.0 447.8C576.8 448.2 582.7 450.5 590.0 455.5C597.3 460.5 607.1 470.1 615.0 478.0C622.9 485.9 629.6 494.2 637.5 503.0C645.4 511.8 654.2 522.6 662.5 530.5C670.8 538.4 679.6 544.8 687.5 550.5C695.4 556.2 705.0 562.0 710.0 565.0C715.0 568.0 713.1 569.3 717.3 568.5C721.5 567.7 727.9 563.9 735.0 560.0C742.1 556.1 753.3 548.9 760.0 545.0C766.7 541.1 770.7 536.5 775.0 536.5C779.3 536.5 783.2 541.8 785.9 545.3C788.6 548.8 790.5 553.8 791.1 557.6C791.7 561.4 791.1 563.7 789.4 568.1C787.6 572.5 783.2 578.9 780.6 583.9C778.0 588.9 776.0 593.0 773.6 598.0C771.2 603.0 769.4 609.1 766.5 613.8C763.6 618.5 759.8 622.6 756.0 626.1C752.2 629.6 747.8 631.7 743.7 634.9C739.6 638.1 736.1 642.8 731.4 645.4C726.7 648.0 722.0 649.5 715.6 650.7C709.2 651.9 700.5 652.8 692.7 652.5C684.9 652.2 677.1 652.0 668.7 648.7C660.3 645.4 651.1 639.0 642.3 632.9C633.5 626.8 625.2 619.3 616.0 611.8C606.8 604.3 596.7 596.4 587.0 588.0C577.3 579.6 566.8 569.6 558.0 561.7C549.2 553.8 540.9 546.8 534.3 540.6C527.7 534.5 521.8 530.5 518.5 524.8C515.2 519.1 514.2 512.6 514.5 506.4C514.8 500.2 516.6 493.9 520.0 487.5C523.4 481.1 529.2 473.8 535.0 468.0C540.8 462.2 549.0 456.4 555.0 453.0C561.0 449.6 565.2 447.4 571.0 447.8Z" fill="#5e5e5d"/>
<g clip-path="url(#cTube)">
<path d="M526.0 489.0C532.7 493.7 551.0 505.7 566.0 517.0C581.0 528.3 600.2 544.2 616.0 557.0C631.8 569.8 647.0 585.3 661.0 594.0C675.0 602.7 687.7 608.3 700.0 609.0C712.3 609.7 725.0 604.5 735.0 598.0C745.0 591.5 755.8 574.7 760.0 570.0" fill="none" stroke="#7b7b7a" stroke-width="24" filter="url(#b8)" opacity=".95"/>
<path d="M500.0 505.0C503.3 510.0 510.4 524.5 520.0 535.0C529.6 545.5 545.8 557.0 557.5 568.0C569.2 579.0 578.8 589.8 590.0 601.0C601.2 612.2 614.2 626.0 625.0 635.0C635.8 644.0 644.2 650.2 655.0 655.0C665.8 659.8 677.5 663.5 690.0 664.0C702.5 664.5 717.5 664.0 730.0 658.0C742.5 652.0 755.0 639.3 765.0 628.0C775.0 616.7 784.2 601.3 790.0 590.0C795.8 578.7 798.3 565.0 800.0 560.0" fill="none" stroke="#2c2c2b" stroke-width="42" filter="url(#b8)"/>
<path d="M745.0 575.0C750.8 565.8 760.8 559.2 770.0 555.0C779.2 550.8 795.0 544.2 800.0 550.0C805.0 555.8 805.0 576.7 800.0 590.0C795.0 603.3 780.0 621.7 770.0 630.0C760.0 638.3 745.8 643.3 740.0 640.0C734.2 636.7 734.2 620.8 735.0 610.0C735.8 599.2 739.2 584.2 745.0 575.0Z" fill="#4a4a48" filter="url(#b4)" opacity=".8"/>
<path d="M560.0 448.0C561.8 447.6 566.0 444.7 571.0 445.5C576.0 446.3 582.7 448.0 590.0 453.0C597.3 458.0 607.1 467.6 615.0 475.5C622.9 483.4 629.6 491.8 637.5 500.5C645.4 509.2 654.2 520.1 662.5 528.0C670.8 535.9 679.2 542.0 687.5 548.0C695.8 554.0 707.9 561.3 712.0 564.0" fill="none" stroke="#555553" stroke-width="9" filter="url(#b2)" opacity=".9"/>
<path d="M552.0 458.0C555.0 458.7 561.5 456.2 570.0 462.0C578.5 467.8 591.2 481.7 603.0 493.0C614.8 504.3 627.7 518.0 640.5 530.0C653.3 542.0 673.4 559.2 680.0 565.0" fill="none" stroke="url(#gHl)" stroke-width="4.5" filter="url(#b2)"/>
<path d="M553.9 453.4C550.8 456.1 540.5 463.9 535.0 469.8C529.5 475.7 524.3 482.2 521.0 488.5C517.7 494.8 515.6 501.4 515.2 507.3C514.8 513.2 515.8 518.2 518.7 523.7C521.6 529.2 530.4 537.3 532.8 540.0" fill="none" stroke="#4e4e4c" stroke-width="5" filter="url(#b2)" opacity=".8"/>
</g>
<path d="M602.5 510 L630 535 L651 522.5" stroke="#3c3c3b" stroke-width="1" fill="none"/>
<path d="M616.0 504.5L622.5 501.0L640.5 519.5L634.0 523.0Z" fill="url(#gPad)"/>
<path d="M762 533.5 L774.8 539.4 L774.8 547.6 L762 553.5Z" fill="#585856"/><path d="M762 533.5 L774.8 539.4 L774.8 542 L762 544Z" fill="#6a6a68"/>
<path d="M731.2 537 L731.2 556 A16 9 0 0 0 763.2 557.5 L763.2 537Z" fill="url(#gBoss)"/>
<ellipse cx="747.2" cy="537" rx="16" ry="9.8" fill="#646463"/>
<ellipse cx="747.2" cy="538" rx="13.4" ry="7.6" fill="#454544"/><path d="M734 538 A13.4 7.6 0 0 1 745 530.6 L745 545.4 A13.4 7.6 0 0 1 734 538Z" fill="#5e5e5d" opacity=".7"/>
<ellipse cx="767" cy="537.6" rx="2.2" ry="1.7" fill="#3f3f3d"/>
</g>
<g id="maf">
<path d="M610.6 442.6L624.0 433.0L634.0 433.6L650.8 451.4L647.6 457.4L631.0 465.8L628.0 464.2Z" fill="#0e0e0e" stroke="#0e0e0e" stroke-width="4" stroke-linejoin="round"/>
<path d="M622.4 440.2 L638.4 455" stroke="#fff" stroke-width="2.7" stroke-linecap="round"/>
</g>
<g id="ports">
<path d="M765 470 Q772 466 775.5 471 Q777 477 772 480 Q767 481.5 765 479Z" fill="#a9acb2" stroke="#6c6f76" stroke-width=".9"/>
<path d="M758 459.5 L758 472 L772.3 473.8 L772.3 459.5Z" fill="#84878e"/>
<ellipse cx="765.1" cy="459.5" rx="7.2" ry="3.6" fill="#b4b7bd" stroke="#7a7d84" stroke-width=".6"/>
<ellipse cx="765.3" cy="460" rx="4.6" ry="2.1" fill="#7d8087"/>
<ellipse cx="748.9" cy="464.6" rx="16" ry="6.9" fill="#7a7d84"/>
<path d="M735.4 461 L739 454 Q741 450.6 745.6 450.8 L751.2 461.5 L752 466 L736 466Z" fill="#a6a9af" stroke="#c9ccd1" stroke-width=".7"/>
<ellipse cx="741" cy="458" rx="2.1" ry="3.1" fill="#5c5f66" transform="rotate(28 741 458)"/>
<path d="M732.8 465 L732.8 477 L734.9 479 L734.9 489.5 A14.6 6 0 0 0 764 489.5 L764 479 L765.1 477 L765.1 465 A16 6.9 0 0 1 732.8 465Z" fill="url(#gSil)"/>
<path d="M732.8 465 A16 6.9 0 0 0 765.1 465" fill="none" stroke="#c6c9ce" stroke-width="1"/>
<path d="M733 477.5 A16 6 0 0 0 765 477.5" stroke="#5f6269" stroke-width=".8" fill="none"/>
<circle cx="764.3" cy="472" r="1.2" fill="#5c5f66"/>
</g>
<path d="M517.5 67.5L499.0 67.5L453.0 115.0" fill="none" stroke="#151515" stroke-width="1.45"/>
<path d="M512.5 265.6L493.5 265.6L447.8 312.5" fill="none" stroke="#151515" stroke-width="1.45"/>
<path d="M608.8 324.4L591.5 324.4L549.4 368.0" fill="none" stroke="#151515" stroke-width="1.45"/>
<path d="M693.5 385.0L675.0 385.0L637.2 429.7" fill="none" stroke="#151515" stroke-width="1.45"/>
<path d="M855.0 384.5L835.3 384.5L773.8 456.2" fill="none" stroke="#151515" stroke-width="1.45"/>
<path d="M877.5 469.3L856.3 469.3L822.3 506.5" fill="none" stroke="#151515" stroke-width="1.45"/>
<path d="M174.4 398.0L193.8 398.0L229.7 366.5" fill="none" stroke="#151515" stroke-width="1.45"/>
<path d="M487.0 607.7L502.0 607.7L558.0 562.5" fill="none" stroke="#151515" stroke-width="1.45"/>
<g id="labels" opacity=".995">
<text x="524.4" y="71.9">Heat Shield with Gold Reflective</text>
<text x="515.0" y="270.2">Gen 2 High Flow FIlter</text>
<text x="613.4" y="328.8">Sealing Plate and Ring</text>
<text x="701.2" y="382.2">CNC Machined</text>
<text x="701.2" y="397.8">MAF Boss</text>
<text x="858.9" y="382.2">CNC Machined</text>
<text x="858.9" y="397.8">Breather Ports</text>
<text x="880.6" y="472.8">Silicon Reducer</text>
<text x="53.4" y="402.5">Carbon Fiber Airbox</text>
<text x="342.5" y="611.8">Carbon Fiber Inlet Tube</text>
</g>
</svg>
</body></html>
